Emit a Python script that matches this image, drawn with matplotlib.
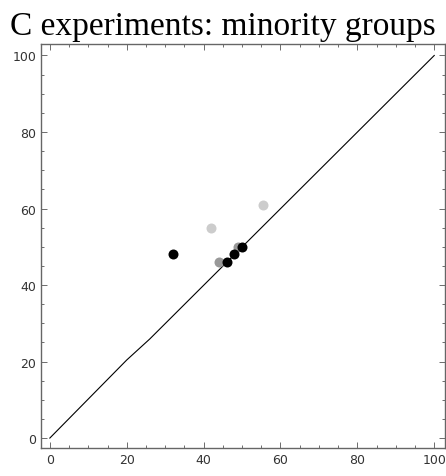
import matplotlib.pyplot as plt
from matplotlib.ticker import MultipleLocator

# reference curve
line_x = [0, 20, 26, 100]
line_y = [0, 20.4, 25.9, 100]

# points, grouped by shade
light_x = [42, 55.5]
light_y = [55, 61]
mid_x = [44, 49]
mid_y = [46, 50]
dark_x = [32, 46, 48, 50]
dark_y = [48, 46, 48, 50]

fig = plt.figure(figsize=(4.46, 4.77), dpi=100)
ax = fig.add_axes([41 / 446, 28 / 477, 404 / 446, 404 / 477])

ax.plot(line_x, line_y, color='black', lw=0.8)
ax.plot(light_x, light_y, 'o', color='#cccccc', ms=7.2, mec='none')
ax.plot(mid_x, mid_y, 'o', color='#999999', ms=7.2, mec='none')
ax.plot(dark_x, dark_y, 'o', color='black', ms=7.2, mec='none')

ax.set_xlim(-2.3, 102.8)
ax.set_ylim(-2.6, 103)
ax.xaxis.set_major_locator(MultipleLocator(20))
ax.yaxis.set_major_locator(MultipleLocator(20))
ax.xaxis.set_minor_locator(MultipleLocator(5))
ax.yaxis.set_minor_locator(MultipleLocator(5))
ax.tick_params(which='both', direction='in', top=True, right=True,
               colors='#555555', labelcolor='#333333', labelsize=9)
ax.tick_params(which='major', length=4, width=0.6)
ax.tick_params(which='minor', length=2.5, width=0.6)
for s in ax.spines.values():
    s.set_color('#666666')
    s.set_linewidth(1.0)

fig.text(0.5, 0.975, 'C experiments: minority groups', ha='center', va='top',
         family='Liberation Serif', fontsize=24)

fig.savefig('out.png')
